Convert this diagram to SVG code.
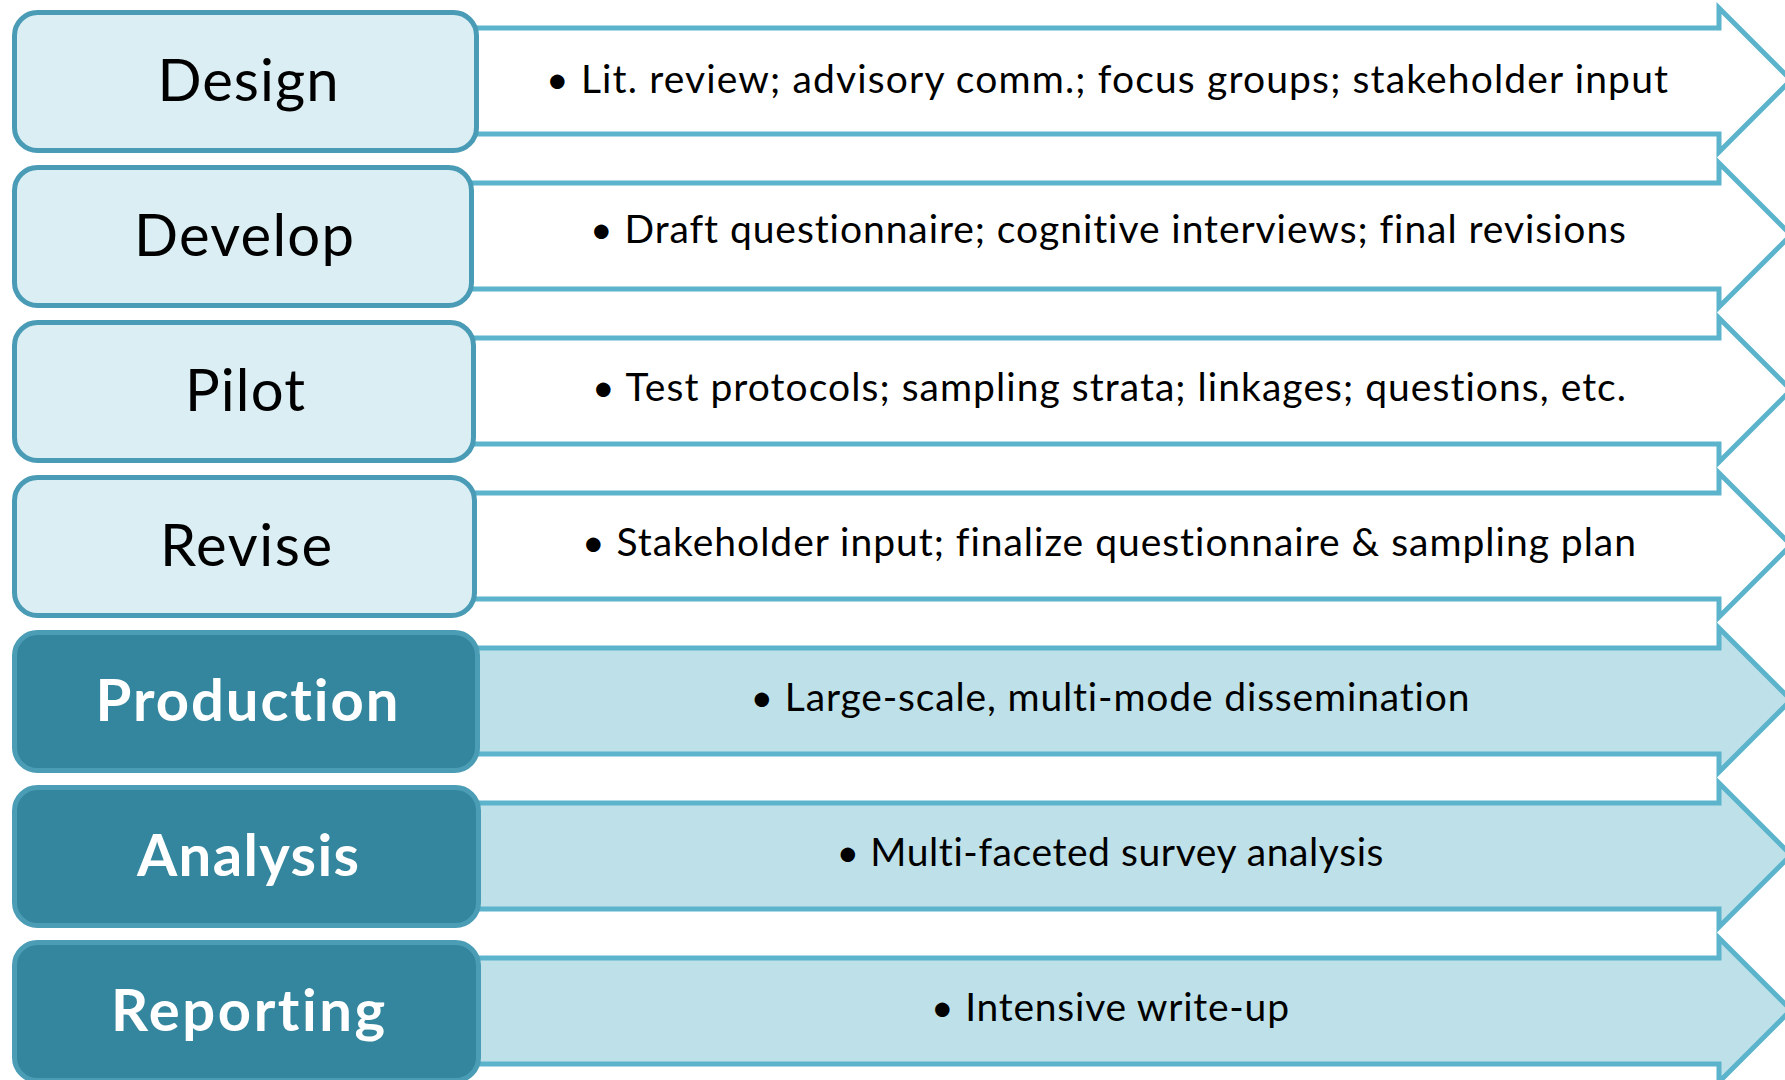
<svg xmlns="http://www.w3.org/2000/svg" width="1785" height="1080" viewBox="0 0 1785 1080">
<style>
.arr{stroke:#5BB4CB;stroke-width:5;stroke-linejoin:miter}
.arrL{fill:#FFFFFF}
.arrD{fill:#BEE1E9}
.boxL{fill:#DAEEF3;stroke:#4A9BB5;stroke-width:5}
.boxD{fill:#33869D;stroke:#4A9DB5;stroke-width:5}
.lab{font-family:Lato,"Open Sans","Liberation Sans",sans-serif;font-size:58px;text-anchor:middle;font-variant-ligatures:none}
.labL{fill:#000000}
.labD{fill:#FFFFFF;font-weight:bold}
.bul{font-family:Lato,"Open Sans","Liberation Sans",sans-serif;font-size:39px;fill:#000000;text-anchor:middle;font-variant-ligatures:none}
</style>
<rect width="1785" height="1080" fill="#FFFFFF"/>
<g id="connectors">
<path class="arr arrL" d="M440 28 H1719 V8 L1791 80 L1719 152 V134 H440 Z"/>
<path class="arr arrL" d="M440 183 H1719 V163 L1791 235 L1719 307 V289 H440 Z"/>
<path class="arr arrL" d="M440 338 H1719 V318 L1791 390 L1719 462 V444 H440 Z"/>
<path class="arr arrL" d="M440 493 H1719 V473 L1791 545 L1719 617 V599 H440 Z"/>
<path class="arr arrD" d="M440 648 H1719 V628 L1791 700 L1719 772 V754 H440 Z"/>
<path class="arr arrD" d="M440 803 H1719 V783 L1791 855 L1719 927 V909 H440 Z"/>
<path class="arr arrD" d="M440 958 H1719 V938 L1791 1010 L1719 1082 V1064 H440 Z"/>
</g>
<g id="design">
<rect class="boxL" x="14.5" y="12.5" width="462" height="138" rx="23"/>
<text class="lab labL" x="248" y="101" textLength="181">Design</text>
<text class="bul" x="1107" y="93" textLength="1122">• Lit. review; advisory comm.; focus groups; stakeholder input</text>
</g>
<g id="develop">
<rect class="boxL" x="14.5" y="167.5" width="457" height="138" rx="23"/>
<text class="lab labL" x="244" y="256" textLength="220">Develop</text>
<text class="bul" x="1108" y="243" textLength="1036">• Draft questionnaire; cognitive interviews; final revisions</text>
</g>
<g id="pilot">
<rect class="boxL" x="14.5" y="322.5" width="459" height="138" rx="23"/>
<text class="lab labL" x="245" y="411" textLength="120">Pilot</text>
<text class="bul" x="1109" y="401" textLength="1034">• Test protocols; sampling strata; linkages; questions, etc.</text>
</g>
<g id="revise">
<rect class="boxL" x="14.5" y="477.5" width="460" height="138" rx="23"/>
<text class="lab labL" x="246" y="566" textLength="172">Revise</text>
<text class="bul" x="1109" y="556" textLength="1054">• Stakeholder input; finalize questionnaire &amp; sampling plan</text>
</g>
<g id="production">
<rect class="boxD" x="14.5" y="632.5" width="463" height="138" rx="23"/>
<text class="lab labD" x="247" y="721" textLength="303">Production</text>
<text class="bul" x="1110" y="711" textLength="719">• Large-scale, multi-mode dissemination</text>
</g>
<g id="analysis">
<rect class="boxD" x="14.5" y="787.5" width="464" height="138" rx="23"/>
<text class="lab labD" x="248" y="876" textLength="222">Analysis</text>
<text class="bul" x="1110" y="866" textLength="547">• Multi-faceted survey analysis</text>
</g>
<g id="reporting">
<rect class="boxD" x="14.5" y="942.5" width="464" height="138" rx="23"/>
<text class="lab labD" x="248" y="1031" textLength="274">Reporting</text>
<text class="bul" x="1110" y="1021" textLength="358">• Intensive write-up</text>
</g>
</svg>
